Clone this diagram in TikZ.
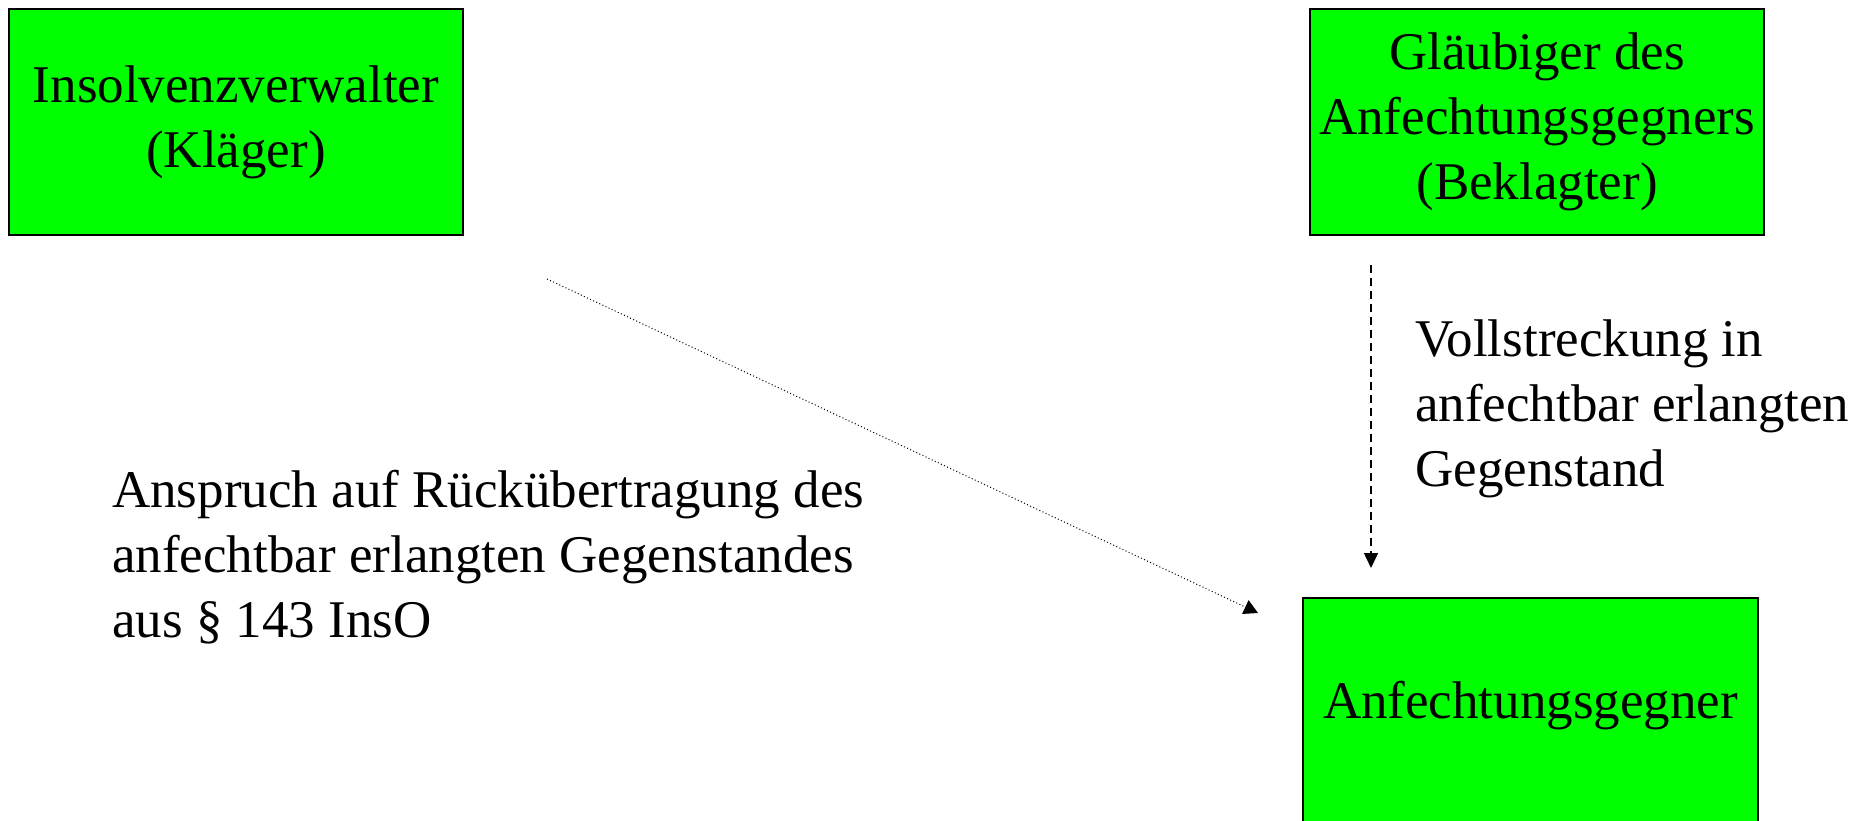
\documentclass[tikz,border=0pt]{standalone}
\usepackage{fontspec}
\setmainfont{Liberation Serif}
\usetikzlibrary{arrows.meta}
\definecolor{boxgreen}{HTML}{00FF00}
\begin{document}
\begin{tikzpicture}[x=1pt,y=1pt,
  partybox/.style={draw=black, line width=1.6pt, fill=boxgreen, inner sep=0pt,
    align=center, font=\fontsize{53}{65}\selectfont},
  lbl/.style={inner sep=0pt, align=left, font=\fontsize{53}{65}\selectfont},
  dotarrow/.style={line width=1pt, dash pattern=on 1pt off 2.4pt, -{Triangle[width=15pt,length=14pt]}},
  dasharrow/.style={line width=1.6pt, dash pattern=on 8pt off 5pt, -{Triangle[width=14pt,length=15pt]}}
]
\useasboundingbox (0,0) rectangle (1869,-821);
\fill[white] (0,0) rectangle (1869,-821);
\node[partybox, minimum width=454pt, minimum height=226pt] (iv) at (236,-122)
  {Insolvenzverwalter\\(Kläger)};
\node[partybox, minimum width=454pt, minimum height=226pt] (gl) at (1537,-122)
  {Gläubiger des\\Anfechtungsgegners\\(Beklagter)};
\node[partybox, minimum width=455pt, text height=121pt, text depth=130pt, anchor=north] (ag) at (1530.5,-597)
  {Anfechtungsgegner};
\node[lbl, anchor=base west] (anspr) at (112,-637)
  {Anspruch auf Rückübertragung des\\anfechtbar erlangten Gegenstandes\\aus § 143 InsO};
\node[lbl, anchor=base west] (voll) at (1415,-486)
  {Vollstreckung in\\anfechtbar erlangten\\Gegenstand};
\coordinate (d1) at (547,-279);
\coordinate (d2) at (1258,-613);
\coordinate (v1) at (1371,-265);
\coordinate (v2) at (1371,-568);
\draw[dotarrow] (d1) -- (d2);
\draw[dasharrow] (v1) -- (v2);
\end{tikzpicture}
\end{document}
